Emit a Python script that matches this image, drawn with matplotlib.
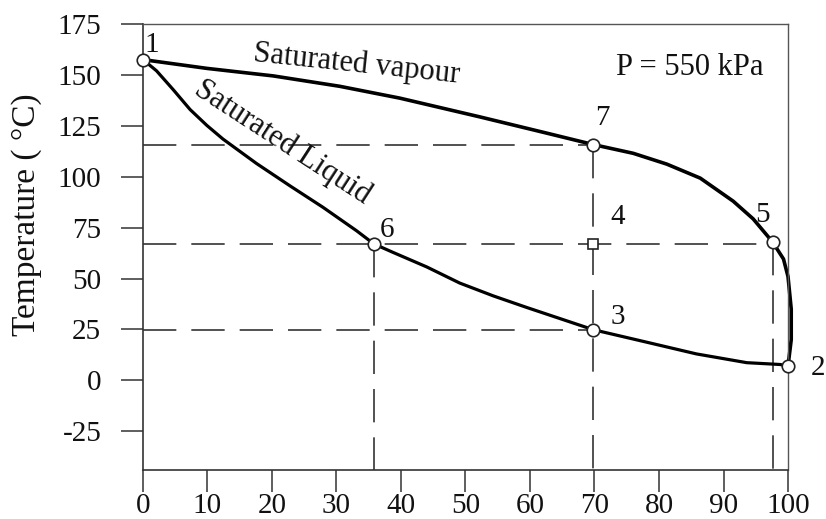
import matplotlib
matplotlib.use("Agg")
import matplotlib.pyplot as plt

# ---- data ----
vap_x = [0, 9.9, 20.2, 30.5, 39.8, 52.2, 62.6, 69.8, 76.0, 81.2, 86.4, 91.5, 94.6, 97.6, 99.3, 100.0, 100.5, 100.5, 100.0]
vap_y = [157.5, 153.2, 149.5, 144.4, 138.6, 129.4, 121.4, 115.8, 111.5, 106.2, 99.3, 88.0, 79.3, 68.0, 59.6, 51.0, 35.0, 20.0, 7.0]

liq_x = [0, 2.1, 4.7, 7.3, 9.9, 12.4, 17.6, 22.8, 27.9, 33.1, 35.8, 38.8, 44.0, 49.1, 54.3, 59.5, 64.6, 69.8, 78.1, 85.8, 93.6, 98.8, 100.0]
liq_y = [157.5, 152.0, 142.7, 133.0, 125.2, 118.5, 106.5, 95.5, 85.0, 73.5, 67.0, 62.8, 55.7, 47.8, 41.5, 35.8, 30.4, 24.9, 18.75, 13.0, 8.7, 7.8, 7.0]

state_ids = ["1", "2", "3", "4", "5", "6", "7"]
state_x = [0, 100, 69.8, 69.8, 97.6, 35.8, 69.8]
state_y = [157.5, 7, 24.9, 67.0, 68.0, 67.0, 115.8]

# dashed guide lines: (x0, x1, y) horizontal and (x, y0) vertical down to axis
h_guides = [(0, 69.8, 115.8), (0, 97.6, 67.0), (0, 69.8, 24.9)]
v_guides = [(35.8, 67.0), (69.8, 115.8), (97.6, 68.0)]

xticks = [0, 10, 20, 30, 40, 50, 60, 70, 80, 90, 100]
yticks = [-25, 0, 25, 50, 75, 100, 125, 150, 175]

plt.rcParams['font.family'] = ['Liberation Serif', 'DejaVu Serif']

fig = plt.figure(figsize=(8.26, 5.19), dpi=100)
ax = fig.add_axes([0.1731, 0.0944, 0.954 - 0.1731, 0.9538 - 0.0944])

ymin = -44
for (x0, x1, y) in h_guides:
    ax.plot([x0, x1], [y, y], color='#333333', lw=1.2, ls=(0, (20, 9)), zorder=1)
for (x, y0) in v_guides:
    ax.plot([x, x], [y0, ymin], color='#333333', lw=1.2, ls=(0, (20, 9)), zorder=1)

ax.plot(vap_x, vap_y, color='black', lw=2.6, solid_joinstyle='round', zorder=2, clip_on=False)
ax.plot(liq_x, liq_y, color='black', lw=2.3, solid_joinstyle='round', zorder=2, clip_on=False)

circ_idx = [i for i, s in enumerate(state_ids) if s != "4"]
ax.plot([state_x[i] for i in circ_idx], [state_y[i] for i in circ_idx], ls='none',
        marker='o', ms=9, mfc='white', mec='#222222', mew=1.2, zorder=4, clip_on=False)
i4 = state_ids.index("4")
ax.plot([state_x[i4]], [state_y[i4]], ls='none', marker='s', ms=6.5, mfc='white',
        mec='#222222', mew=1.2, zorder=4)

label_pos = {"1": (1.4, 164.7), "2": (104.7, 6), "3": (73.6, 31), "4": (73.6, 80.2),
             "5": (96, 81), "6": (37.8, 73.8), "7": (71.2, 128.8)}
for s in state_ids:
    lx, ly = label_pos[s]
    ax.text(lx, ly, s, fontsize=21, ha='center', va='center', color='#111111', clip_on=False)

ax.text(33.2, 155.5, "Saturated vapour", fontsize=22, rotation=-6, ha='center', va='center',
        rotation_mode='anchor', color='#111111')
ax.text(21.6, 117, "Saturated Liquid", fontsize=22, rotation=-33, ha='center', va='center',
        rotation_mode='anchor', color='#111111')
ax.text(84.8, 153.5, "P = 550 kPa", fontsize=22, ha='center', va='center', color='#111111')

ax.set_xlim(0, 100)
ax.set_ylim(ymin, 175)
ax.set_xticks(xticks)
ax.set_yticks(yticks)
ax.set_xticklabels([str(v) for v in xticks])
ax.set_yticklabels([str(v) for v in yticks])
ax.tick_params(axis='both', direction='out', length=16, width=1.1, color='#333333',
               labelsize=21, labelcolor='#111111')
ax.tick_params(axis='y', pad=14)
ax.tick_params(axis='x', pad=0.5)
ax.set_ylabel("Temperature ( °C)", fontsize=24, color='#111111', va='center', ha='center')
ax.yaxis.set_label_coords(-0.18, 0.572)

for side in ['left', 'bottom']:
    ax.spines[side].set_color('#333333')
    ax.spines[side].set_linewidth(1.2)
for side in ['top', 'right']:
    ax.spines[side].set_color('#555555')
    ax.spines[side].set_linewidth(1.0)

fig.savefig("out.png", dpi=100)
